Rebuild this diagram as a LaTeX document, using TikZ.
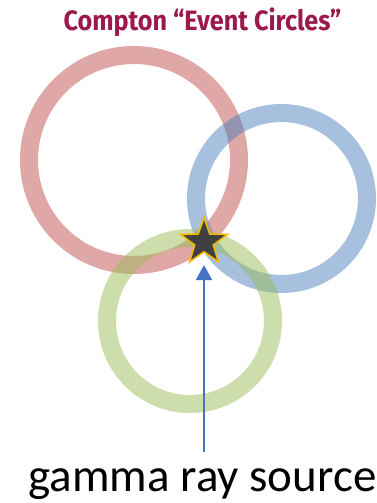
\documentclass[tikz,border=0pt]{standalone}
\usepackage{fontspec}
\setmainfont{Carlito}
\newfontfamily\titlefont{Fira Sans}
\usetikzlibrary{shapes.geometric,arrows.meta}
\definecolor{ringred}{HTML}{C0504D}
\definecolor{ringblue}{HTML}{4F81BD}
\definecolor{ringgreen}{HTML}{9BBB59}
\definecolor{titlecol}{HTML}{9B1A4B}
\definecolor{arrowcol}{HTML}{4472C4}
\definecolor{stargold}{HTML}{F5B800}
\definecolor{stardark}{HTML}{404040}
\tikzset{
  ring/.style={draw opacity=0.5, line width=18pt},
  gstar/.style={star, star points=5, star point ratio=2.5, minimum size=49pt, inner sep=0pt, fill=stardark, draw=stargold, line width=1.6pt},
  ray/.style={draw=arrowcol, line width=1.8pt, -{Triangle[width=16pt,length=15pt]}},
}
\begin{document}
\begin{tikzpicture}[x=1pt,y=-1pt]
\useasboundingbox (0,0) rectangle (377,503);
\node[font=\titlefont\bfseries\fontsize{28}{30}\selectfont, text=titlecol, anchor=base] (title) at (202.5,31) {\scalebox{0.9}[1]{Compton “Event Circles”}};
\draw[ring, draw=ringred] (134,160) circle[radius=105];
\draw[ring, draw=ringblue] (281.5,198.5) circle[radius=85.5];
\draw[ring, draw=ringgreen] (190,321) circle[radius=83];
\node[gstar] (src) at (204,242) {};
\coordinate (rayfoot) at (204,452);
\draw[ray] (rayfoot) -- (204,265);
\node[font=\fontsize{47}{50}\selectfont, anchor=base] (label) at (202.5,491) {gamma ray source};
\end{tikzpicture}
\end{document}
